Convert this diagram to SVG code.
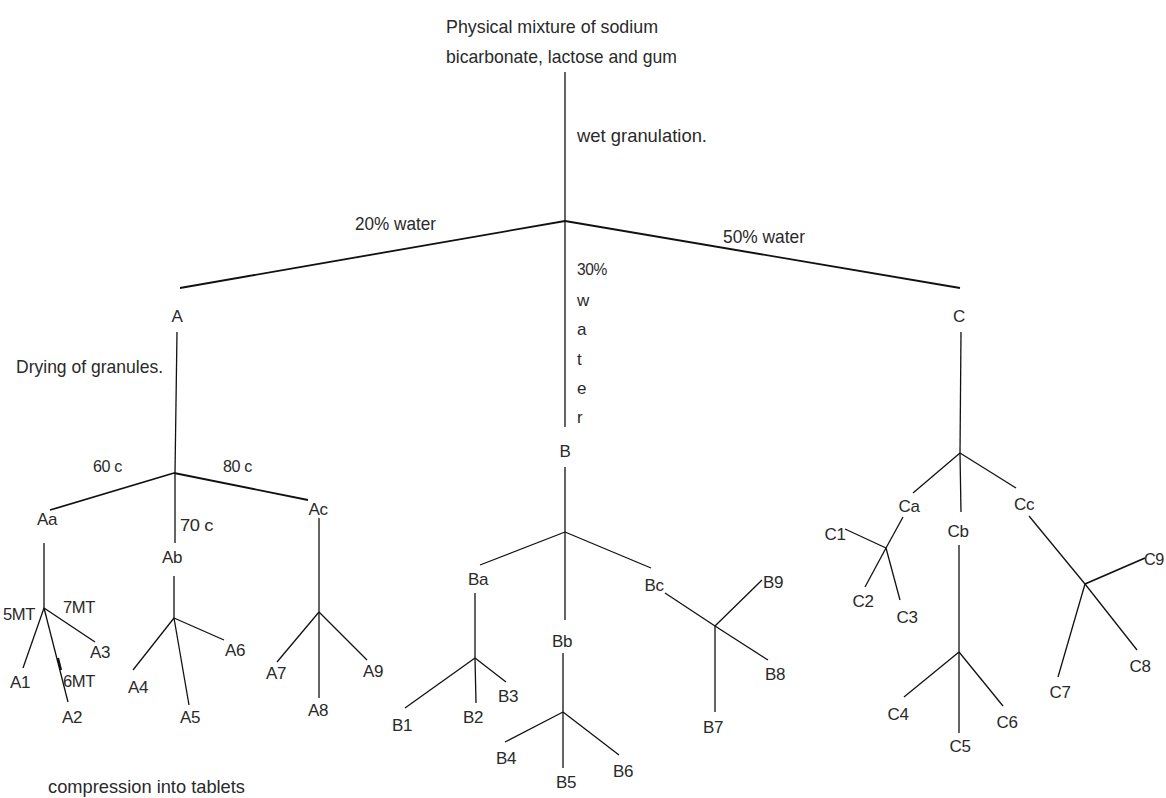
<svg xmlns="http://www.w3.org/2000/svg" width="1166" height="798" viewBox="0 0 1166 798">
<style>
text{font-family:"Liberation Sans",Arial,sans-serif;font-size:17px;fill:#2a2a2a;letter-spacing:-0.4px}
.m{text-anchor:middle}
.L{font-size:19px;letter-spacing:0}
.c line{stroke:#111;stroke-width:1.3;fill:none}
.c line.t{stroke-width:1.8}
</style>
<rect width="1166" height="798" fill="#fff"/>
<g id="connectors" class="c">
<line x1="565" y1="72" x2="565" y2="427"/>
<line class="t" x1="565" y1="221" x2="180" y2="288"/>
<line class="t" x1="565" y1="221" x2="960" y2="288"/>
<line x1="177" y1="332" x2="175" y2="473"/>
<line x1="961" y1="332" x2="960" y2="453"/>
<line x1="565" y1="467" x2="565" y2="532"/>
<line class="t" x1="174" y1="473" x2="50" y2="510"/>
<line class="t" x1="174" y1="473" x2="308" y2="500"/>
<line x1="175" y1="473" x2="175" y2="543"/>
<line x1="44" y1="543" x2="44" y2="608"/>
<line x1="44" y1="608" x2="23" y2="668"/>
<line x1="44" y1="608" x2="68" y2="702"/>
<line x1="44" y1="608" x2="95" y2="642"/>
<line x1="58" y1="658" x2="61" y2="670" style="stroke-width:2.2"/>
<line x1="174" y1="576" x2="174" y2="618"/>
<line x1="174" y1="618" x2="133" y2="670"/>
<line x1="174" y1="618" x2="189" y2="705"/>
<line x1="174" y1="618" x2="224" y2="640"/>
<line x1="319" y1="518" x2="319" y2="612"/>
<line x1="319" y1="612" x2="277" y2="662"/>
<line x1="319" y1="612" x2="319" y2="698"/>
<line x1="319" y1="612" x2="367" y2="660"/>
<line x1="565" y1="532" x2="480" y2="565"/>
<line x1="565" y1="532" x2="651" y2="568"/>
<line x1="565" y1="532" x2="565" y2="620"/>
<line x1="475" y1="593" x2="475" y2="658"/>
<line x1="475" y1="658" x2="405" y2="708"/>
<line x1="475" y1="658" x2="476" y2="703"/>
<line x1="475" y1="658" x2="506" y2="682"/>
<line x1="563" y1="653" x2="563" y2="712"/>
<line x1="563" y1="712" x2="505" y2="742"/>
<line x1="563" y1="712" x2="563" y2="768"/>
<line x1="563" y1="712" x2="619" y2="755"/>
<line x1="665" y1="593" x2="715" y2="626"/>
<line x1="715" y1="626" x2="762" y2="580"/>
<line x1="715" y1="626" x2="768" y2="660"/>
<line x1="715" y1="626" x2="715" y2="712"/>
<line x1="960" y1="453" x2="913" y2="493"/>
<line x1="960" y1="453" x2="961" y2="512"/>
<line x1="960" y1="453" x2="1016" y2="488"/>
<line x1="903" y1="517" x2="886" y2="548"/>
<line x1="886" y1="548" x2="845" y2="529"/>
<line x1="886" y1="548" x2="865" y2="587"/>
<line x1="886" y1="548" x2="900" y2="600"/>
<line x1="959" y1="545" x2="959" y2="652"/>
<line x1="959" y1="652" x2="904" y2="697"/>
<line x1="959" y1="652" x2="959" y2="733"/>
<line x1="959" y1="652" x2="1003" y2="706"/>
<line x1="1029" y1="516" x2="1085" y2="584"/>
<line class="t" x1="1085" y1="584" x2="1145" y2="558"/>
<line x1="1085" y1="584" x2="1137" y2="650"/>
<line x1="1085" y1="584" x2="1058" y2="677"/>
</g>
<g id="labels">
<text class="L" x="577" y="142" textLength="130" lengthAdjust="spacingAndGlyphs">wet granulation.</text>
<text class="L" x="355" y="230" textLength="81" lengthAdjust="spacingAndGlyphs">20% water</text>
<text class="L" x="723" y="243" textLength="82" lengthAdjust="spacingAndGlyphs">50% water</text>
<text x="577" y="275" textLength="30" lengthAdjust="spacingAndGlyphs">30%</text>
<text x="577" y="306">w</text>
<text x="577" y="335">a</text>
<text x="577" y="365">t</text>
<text x="577" y="394">e</text>
<text x="577" y="423">r</text>
<text class="L" x="16" y="373" textLength="147" lengthAdjust="spacingAndGlyphs">Drying of granules.</text>
<text x="93" y="472" textLength="29" lengthAdjust="spacingAndGlyphs">60 c</text>
<text x="223" y="472" textLength="29" lengthAdjust="spacingAndGlyphs">80 c</text>
<text x="180" y="531" textLength="33" lengthAdjust="spacingAndGlyphs">70  c</text>
<text x="3" y="620" textLength="32" lengthAdjust="spacingAndGlyphs">5MT</text>
<text x="63" y="613" textLength="32" lengthAdjust="spacingAndGlyphs">7MT</text>
<text x="63" y="687" textLength="32" lengthAdjust="spacingAndGlyphs">6MT</text>
<text class="L" x="48" y="793" textLength="197" lengthAdjust="spacingAndGlyphs">compression into tablets</text>
</g>
<g id="root"><text class="L" x="446" y="33" textLength="212" lengthAdjust="spacingAndGlyphs">Physical mixture of sodium</text><text class="L" x="446" y="63" textLength="231" lengthAdjust="spacingAndGlyphs">bicarbonate, lactose and gum</text></g>
<g id="A"><text class="m" x="177" y="322">A</text></g>
<g id="B"><text class="m" x="565" y="457">B</text></g>
<g id="C"><text class="m" x="959" y="322">C</text></g>
<g id="Aa"><text class="m" x="47" y="525">Aa</text></g>
<g id="Ab"><text class="m" x="172" y="563">Ab</text></g>
<g id="Ac"><text class="m" x="318" y="515">Ac</text></g>
<g id="A1"><text class="m" x="20" y="688">A1</text></g>
<g id="A2"><text class="m" x="72" y="723">A2</text></g>
<g id="A3"><text class="m" x="100" y="658">A3</text></g>
<g id="A4"><text class="m" x="138" y="693">A4</text></g>
<g id="A5"><text class="m" x="190" y="723">A5</text></g>
<g id="A6"><text class="m" x="235" y="656">A6</text></g>
<g id="A7"><text class="m" x="276" y="679">A7</text></g>
<g id="A8"><text class="m" x="318" y="716">A8</text></g>
<g id="A9"><text class="m" x="373" y="677">A9</text></g>
<g id="Ba"><text class="m" x="478" y="585">Ba</text></g>
<g id="Bb"><text class="m" x="562" y="647">Bb</text></g>
<g id="Bc"><text class="m" x="654" y="591">Bc</text></g>
<g id="B1"><text class="m" x="402" y="731">B1</text></g>
<g id="B2"><text class="m" x="473" y="723">B2</text></g>
<g id="B3"><text class="m" x="508" y="702">B3</text></g>
<g id="B4"><text class="m" x="506" y="764">B4</text></g>
<g id="B5"><text class="m" x="566" y="788">B5</text></g>
<g id="B6"><text class="m" x="623" y="777">B6</text></g>
<g id="B7"><text class="m" x="713" y="733">B7</text></g>
<g id="B8"><text class="m" x="775" y="680">B8</text></g>
<g id="B9"><text class="m" x="773" y="588">B9</text></g>
<g id="Ca"><text class="m" x="909" y="512">Ca</text></g>
<g id="Cb"><text class="m" x="958" y="537">Cb</text></g>
<g id="Cc"><text class="m" x="1024" y="510">Cc</text></g>
<g id="C1"><text class="m" x="835" y="540">C1</text></g>
<g id="C2"><text class="m" x="863" y="607">C2</text></g>
<g id="C3"><text class="m" x="907" y="623">C3</text></g>
<g id="C4"><text class="m" x="898" y="720">C4</text></g>
<g id="C5"><text class="m" x="960" y="752">C5</text></g>
<g id="C6"><text class="m" x="1007" y="728">C6</text></g>
<g id="C7"><text class="m" x="1060" y="698">C7</text></g>
<g id="C8"><text class="m" x="1140" y="672">C8</text></g>
<g id="C9"><text x="1144" y="565" textLength="20" lengthAdjust="spacingAndGlyphs">C9</text></g>
</svg>
